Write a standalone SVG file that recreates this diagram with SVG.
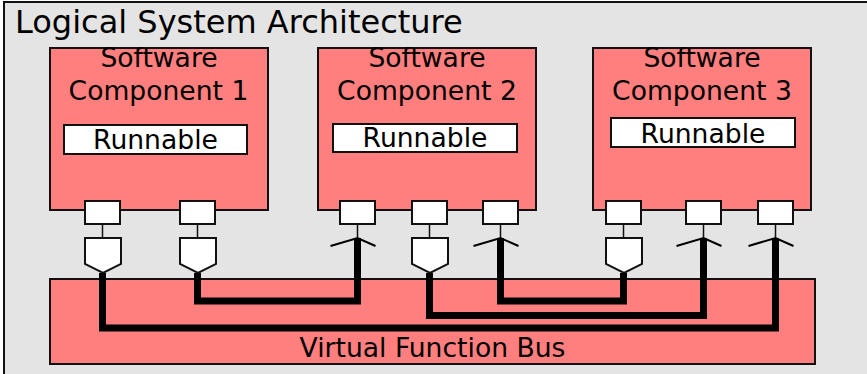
<svg xmlns="http://www.w3.org/2000/svg" width="867" height="374" viewBox="0 0 867 374">
<style>
  text { font-family: "DejaVu Sans", Verdana, sans-serif; fill: #000; }
  .comp { fill: #FF7F7F; stroke: #111; stroke-width: 2; }
  .box { fill: #fff; stroke: #111; stroke-width: 2; }
  .lbl { font-size: 26.6px; text-anchor: middle; }
  .stub { stroke: #111; stroke-width: 1.5; fill: none; }
  .recv { stroke: #000; stroke-width: 2; fill: none; }
  .wire { stroke: #000; stroke-width: 7; fill: none; stroke-linejoin: miter; }
</style>
<g id="frame">
  <rect x="4" y="2" width="880" height="390" fill="#E4E4E4" stroke="#111" stroke-width="2"/>
  <text x="15" y="33" font-size="32">Logical System Architecture</text>
</g>
<g id="bus">
  <rect class="comp" x="50" y="279" width="765" height="85"/>
  <text class="lbl" x="432.5" y="357">Virtual Function Bus</text>
</g>
<g id="swc1">
  <rect class="comp" x="50" y="48" width="218" height="162"/>
  <text class="lbl" x="159" y="67">Software</text>
  <text class="lbl" x="158.5" y="100">Component 1</text>
  <rect class="box" x="64" y="125" width="183" height="29"/>
  <text class="lbl" x="155.5" y="149">Runnable</text>
  <rect class="box" x="85" y="201" width="35" height="23"/>
  <rect class="box" x="180" y="201" width="35" height="23"/>
  <path class="stub" d="M102.5,224V238M197.5,224V238"/>
  <polygon class="box" points="85,238 121,238 121,264 103,273 85,264"/>
  <polygon class="box" points="180,238 216,238 216,264 198,273 180,264"/>
</g>
<g id="swc2">
  <rect class="comp" x="318" y="48" width="218" height="162"/>
  <text class="lbl" x="427" y="67">Software</text>
  <text class="lbl" x="427" y="100">Component 2</text>
  <rect class="box" x="333" y="124" width="184" height="28"/>
  <text class="lbl" x="425" y="147">Runnable</text>
  <rect class="box" x="340" y="201" width="35" height="23"/>
  <rect class="box" x="412" y="201" width="35" height="23"/>
  <rect class="box" x="483" y="201" width="35" height="23"/>
  <path class="stub" d="M357.5,224V238M429.5,224V238M500.5,224V238"/>
  <polygon class="box" points="412,238 448,238 448,264 430,273 412,264"/>
  <path class="recv" d="M330.5,246L357.5,238L375.5,246M473.5,246L500.5,238L518.5,246"/>
</g>
<g id="swc3">
  <rect class="comp" x="593" y="48" width="218" height="162"/>
  <text class="lbl" x="702" y="67">Software</text>
  <text class="lbl" x="702" y="100">Component 3</text>
  <rect class="box" x="611" y="118" width="184" height="29"/>
  <text class="lbl" x="703" y="142.5">Runnable</text>
  <rect class="box" x="606" y="201" width="35" height="23"/>
  <rect class="box" x="686" y="201" width="35" height="23"/>
  <rect class="box" x="758" y="201" width="35" height="23"/>
  <path class="stub" d="M623.5,224V238M703.5,224V238M775.5,224V238"/>
  <polygon class="box" points="606,238 642,238 642,264 624,273 606,264"/>
  <path class="recv" d="M676.5,246L703.5,238L721.5,246M748.5,246L775.5,238L793.5,246"/>
</g>
<g id="connectors">
  <path class="wire" d="M102.5,273V328H775.5V238"/>
  <path class="wire" d="M197.5,273V301H357.5V238"/>
  <path class="wire" d="M429.5,273V315.5H703.5V238"/>
  <path class="wire" d="M623.5,273V301H500.5V238"/>
</g>
</svg>
